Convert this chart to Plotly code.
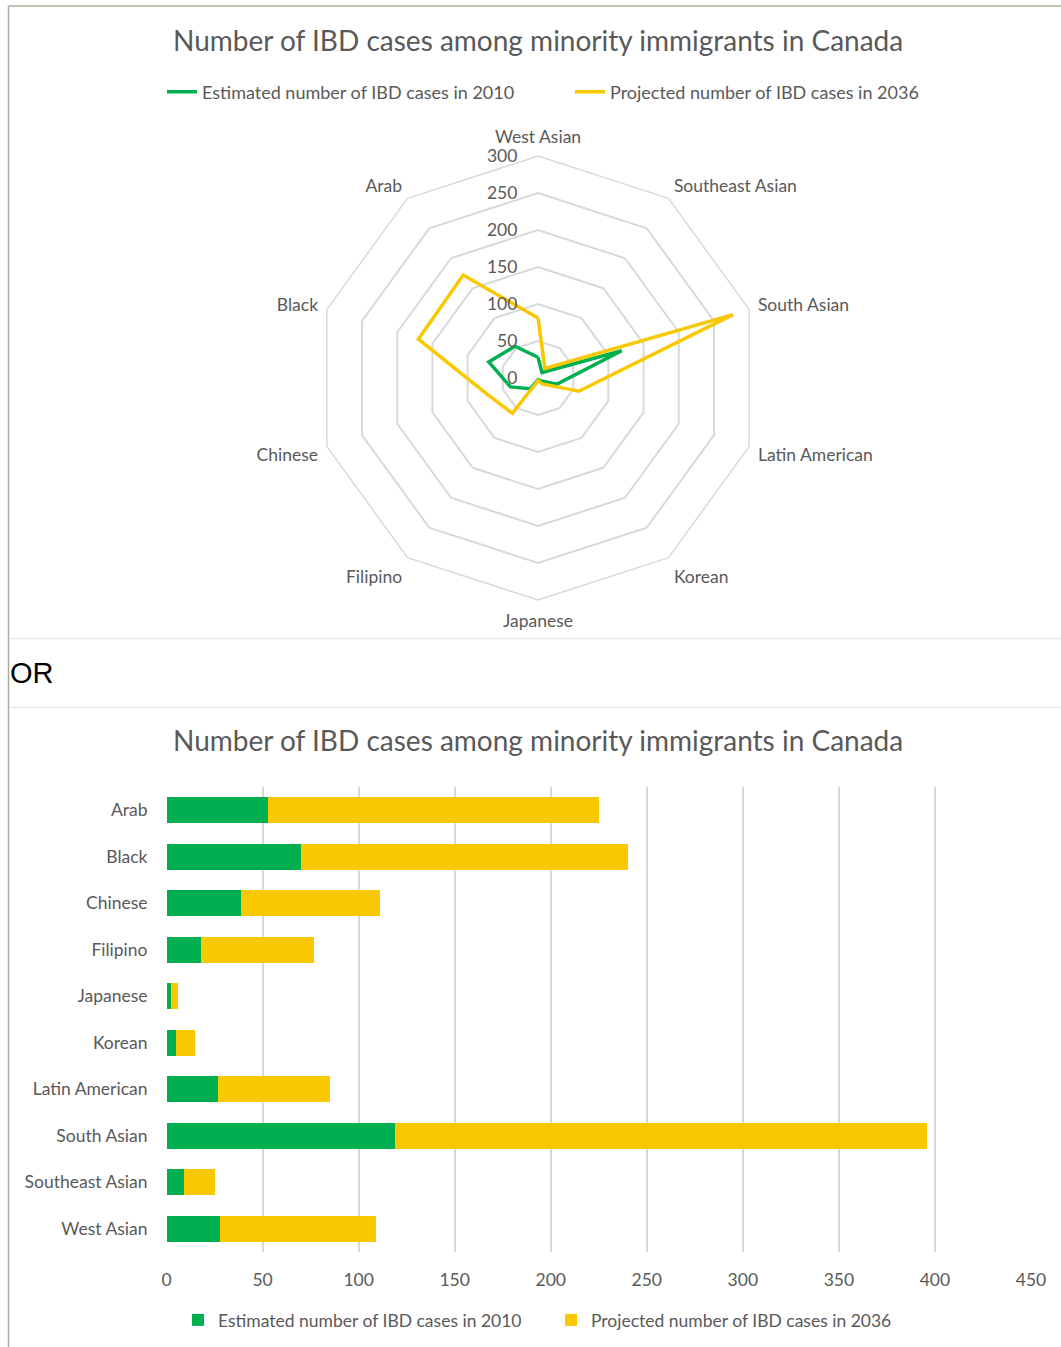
import plotly.graph_objects as go

# ---- data ----
radar_categories = ["West Asian", "Southeast Asian", "South Asian", "Latin American", "Korean",
                    "Japanese", "Filipino", "Chinese", "Black", "Arab"]
bar_categories = ["Arab", "Black", "Chinese", "Filipino", "Japanese", "Korean",
                  "Latin American", "South Asian", "Southeast Asian", "West Asian"]
cases_2010 = {"Arab": 53, "Black": 70, "Chinese": 39, "Filipino": 18, "Japanese": 2.4,
              "Korean": 4.7, "Latin American": 27, "South Asian": 119,
              "Southeast Asian": 9.2, "West Asian": 28}
cases_2036 = {"Arab": 172, "Black": 170, "Chinese": 72, "Filipino": 59, "Japanese": 3.5,
              "Korean": 10, "Latin American": 58, "South Asian": 277,
              "Southeast Asian": 16, "West Asian": 81}
series_names = ["Estimated number of IBD cases in 2010", "Projected number of IBD cases in 2036"]
radial_ticks = [0, 50, 100, 150, 200, 250, 300]
x_ticks = [0, 50, 100, 150, 200, 250, 300, 350, 400, 450]
title_text = "Number of IBD cases among minority immigrants in Canada"

GREEN = "#00B050"
YELLOW = "#F9C800"
GRID = "#D9D9D9"
TXT = "#595959"
FONT = "Lato"

W, H = 1061, 1347
# effective drawing area observed in the viewer: starts at x=5, 1041 px wide
X0, EW = 5, 1041
def px(x):
    return (x - X0) / EW
def py(y):
    return 1 - y / H

fig = go.Figure()

# radar traces (closed)
for name, data, col in [(series_names[0], cases_2010, GREEN), (series_names[1], cases_2036, YELLOW)]:
    r = [data[c] for c in radar_categories]
    fig.add_trace(go.Scatterpolar(
        r=r + [r[0]], theta=radar_categories + [radar_categories[0]],
        mode="lines", line=dict(color=col, width=3.5), name=name,
        legend="legend", subplot="polar"))

# bar traces
for name, data, col in [(series_names[0], cases_2010, GREEN), (series_names[1], cases_2036, YELLOW)]:
    fig.add_trace(go.Bar(
        y=bar_categories, x=[data[c] for c in bar_categories], orientation="h",
        marker=dict(color=col, line=dict(width=0)), name=name,
        legend="legend2", xaxis="x", yaxis="y"))

cx, cy, R = 538, 378, 222
fig.update_layout(
    width=W, height=H, autosize=False, margin=dict(l=0, r=0, t=0, b=0),
    paper_bgcolor="white", plot_bgcolor="white",
    font=dict(family=FONT, color=TXT, size=17.5),
    showlegend=True, barmode="stack", bargap=0.44,
    polar=dict(
        domain=dict(x=[px(cx - R), px(cx + R)], y=[py(cy + R), py(cy - R)]),
        gridshape="linear", bgcolor="white",
        radialaxis=dict(range=[0, 300], tickvals=radial_ticks, showline=False,
                        gridcolor=GRID, gridwidth=1.5, angle=90, tickangle=90,
                        side="counterclockwise",
                        ticks="outside", ticklen=14, tickcolor="rgba(0,0,0,0)",
                        tickfont=dict(size=17.5, color=TXT)),
        angularaxis=dict(categoryorder="array", categoryarray=radar_categories,
                         direction="clockwise", rotation=90, showgrid=False,
                         showline=True, linecolor=GRID, linewidth=1.5,
                         ticks="outside", ticklen=5, tickcolor="rgba(0,0,0,0)",
                         tickfont=dict(size=17.5, color=TXT)),
    ),
    xaxis=dict(domain=[px(166.5), px(1031)], anchor="y", range=[0, 450], tickvals=x_ticks,
               showgrid=True, gridcolor=GRID, gridwidth=1.5, zeroline=False,
               showline=False, ticks="", ticklabelstandoff=15,
               tickfont=dict(size=17.5, color=TXT)),
    yaxis=dict(domain=[py(1252), py(787)], anchor="x", autorange="reversed",
               showgrid=False, showline=False, ticks="", ticklabelstandoff=18,
               tickfont=dict(size=17.5, color=TXT)),
    legend=dict(orientation="h", x=px(162), y=py(92), xanchor="left", yanchor="middle",
                font=dict(size=18, color=TXT), entrywidth=363, entrywidthmode="pixels",
                traceorder="normal", bgcolor="rgba(0,0,0,0)"),
    legend2=dict(orientation="h", x=px(178), y=py(1320), xanchor="left", yanchor="middle",
                 font=dict(size=17.5, color=TXT), entrywidth=328, entrywidthmode="pixels",
                 traceorder="normal", bgcolor="rgba(0,0,0,0)"),
    annotations=[
        dict(text=title_text, x=px(538), y=py(40), xref="paper", yref="paper",
             xanchor="center", yanchor="middle",
             showarrow=False, font=dict(size=28, color=TXT, family=FONT)),
        dict(text=title_text, x=px(538), y=py(740), xref="paper", yref="paper",
             xanchor="center", yanchor="middle",
             showarrow=False, font=dict(size=28, color=TXT, family=FONT)),
        dict(text="OR", x=px(8), y=py(673), xref="paper", yref="paper", xanchor="left",
             yanchor="middle",
             showarrow=False, font=dict(size=29, color="black", family="Liberation Sans")),
    ],
    shapes=[
        dict(type="line", xref="paper", yref="paper", x0=px(8.5), x1=1.02, y0=py(6), y1=py(6),
             line=dict(color="#ABAB9C", width=1.5)),
        dict(type="line", xref="paper", yref="paper", x0=px(8.5), x1=px(8.5), y0=py(6), y1=0,
             line=dict(color="#ABAB9C", width=1.5)),
        dict(type="line", xref="paper", yref="paper", x0=px(9), x1=1.02, y0=py(638.5), y1=py(638.5),
             line=dict(color="#E8E8E8", width=1.5)),
        dict(type="line", xref="paper", yref="paper", x0=px(9), x1=1.02, y0=py(707.5), y1=py(707.5),
             line=dict(color="#E8E8E8", width=1.5)),
    ],
)

fig.write_html("out.html",
               config={"displayModeBar": False, "responsive": False},
               post_script="document.body.style.margin='0';"
                           "document.documentElement.style.overflow='hidden';"
                           "document.body.style.overflow='hidden';")
